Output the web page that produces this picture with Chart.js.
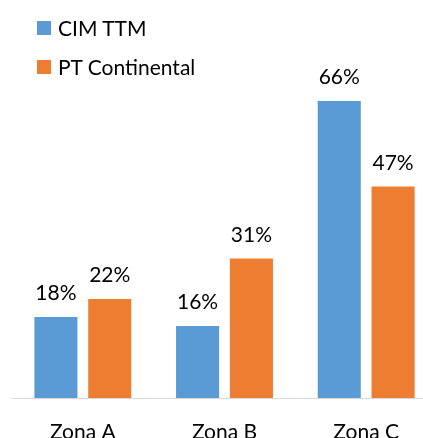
<!DOCTYPE html>
<html lang="pt">
<head>
<meta charset="UTF-8">
<title>Zonas</title>
<script src="https://cdn.jsdelivr.net/npm/chart.js"></script>
<style>
  html, body {
    margin: 0;
    width: 423px;
    height: 438px;
    overflow: hidden;
    background: #fff;
    font-family: Lato, "Open Sans", sans-serif;
  }
  .wrap {
    position: relative;
    width: 450px;
    height: 438px;
  }
  .legend {
    position: absolute;
    left: 37px;
    top: 8px;
    color: #000;
    font-size: 21px;
  }
  .legend div {
    display: flex;
    align-items: center;
    height: 39px;
  }
  .legend span.box {
    width: 14px;
    height: 14px;
    margin-right: 7px;
  }
</style>
</head>
<body>
<div class="wrap">
  <canvas id="zonas" width="450" height="438"></canvas>
  <div class="legend" id="legend"></div>
</div>
<script>
  var zonas = ['Zona A', 'Zona B', 'Zona C'];
  var series = ['CIM TTM', 'PT Continental'];
  var cimTtm = [18, 16, 66];
  var ptContinental = [22, 31, 47];
  var cores = ['#5B9BD5', '#ED7D31'];

  // legenda em HTML, na vertical
  var legend = document.getElementById('legend');
  series.forEach(function(nome, i) {
    var row = document.createElement('div');
    var box = document.createElement('span');
    box.className = 'box';
    box.style.background = cores[i];
    row.appendChild(box);
    row.appendChild(document.createTextNode(nome));
    legend.appendChild(row);
  });

  // percentagens por cima das barras
  var rotulos = {
    id: 'rotulos',
    afterDatasetsDraw: function(chart) {
      var ctx = chart.ctx;
      ctx.save();
      ctx.font = '21px Lato, "Open Sans", sans-serif';
      ctx.fillStyle = '#000';
      ctx.textAlign = 'center';
      ctx.textBaseline = 'alphabetic';
      chart.data.datasets.forEach(function(ds, i) {
        chart.getDatasetMeta(i).data.forEach(function(bar, j) {
          ctx.fillText(ds.data[j] + '%', bar.x, bar.y - 17);
        });
      });
      ctx.restore();
    }
  };

  new Chart(document.getElementById('zonas'), {
    type: 'bar',
    data: {
      labels: zonas,
      datasets: [
        { label: series[0], data: cimTtm, backgroundColor: cores[0] },
        { label: series[1], data: ptContinental, backgroundColor: cores[1] }
      ]
    },
    options: {
      responsive: false,
      animation: false,
      layout: { padding: { top: 2, left: 12, right: 13, bottom: 0 } },
      categoryPercentage: 0.76,
      barPercentage: 0.8,
      plugins: {
        legend: { display: false },
        tooltip: { enabled: false }
      },
      scales: {
        x: {
          grid: { display: false },
          border: { display: true, color: '#D9D9D9', width: 1 },
          ticks: {
            color: '#000',
            padding: 14,
            font: { family: 'Lato, "Open Sans", sans-serif', size: 21 }
          },
          afterFit: function(scale) { scale.height = 40; }
        },
        y: {
          display: false,
          min: 0,
          max: 88
        }
      }
    },
    plugins: [rotulos]
  });
</script>
</body>
</html>
